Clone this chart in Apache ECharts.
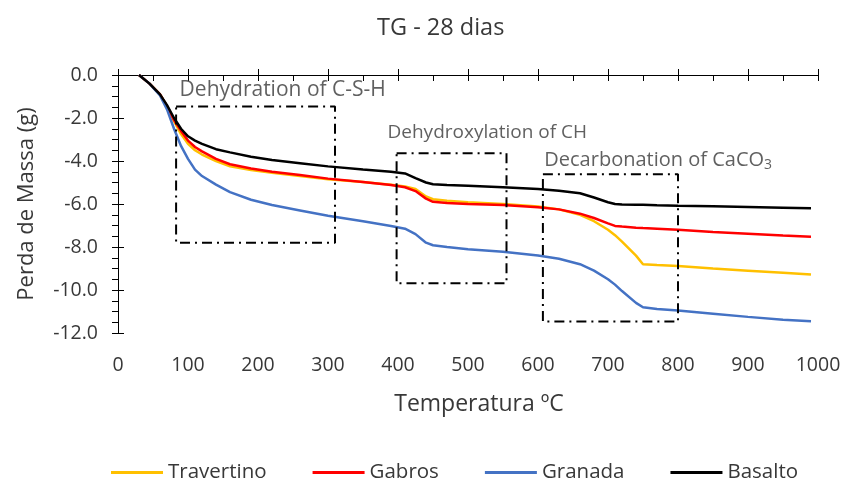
<html>
<head>
<meta charset="utf-8">
<title>TG - 28 dias</title>
<script src="https://cdn.jsdelivr.net/npm/echarts@6/dist/echarts.min.js"></script>
</head>
<body style="margin:0;padding:0;background:#fff;">
<div id="main" style="width:854px;height:481px;"></div>
<script type="text/javascript">
// temperatura (ºC) e perda de massa (g)
var temperatura = [30, 45, 60, 70, 80, 90, 100, 110, 120, 140, 160, 190, 220, 260, 300, 350, 390, 410, 425, 440, 450, 470, 500, 550, 600, 630, 660, 680, 700, 710, 720, 740, 750, 770, 800, 850, 900, 950, 990];
var travertino = [0, -0.4, -0.9, -1.45, -2.15, -2.75, -3.2, -3.5, -3.7, -4.0, -4.25, -4.42, -4.55, -4.7, -4.85, -4.98, -5.1, -5.18, -5.3, -5.65, -5.78, -5.85, -5.92, -6.0, -6.12, -6.25, -6.5, -6.8, -7.2, -7.45, -7.75, -8.4, -8.8, -8.84, -8.88, -9.0, -9.1, -9.2, -9.28];
var gabros = [0, -0.4, -0.9, -1.45, -2.1, -2.6, -3.05, -3.35, -3.55, -3.9, -4.15, -4.35, -4.5, -4.65, -4.82, -4.98, -5.12, -5.22, -5.4, -5.75, -5.9, -5.95, -6.0, -6.05, -6.15, -6.25, -6.45, -6.65, -6.9, -7.02, -7.05, -7.1, -7.12, -7.15, -7.2, -7.3, -7.38, -7.46, -7.52];
var granada = [0, -0.4, -0.95, -1.6, -2.5, -3.3, -3.9, -4.4, -4.7, -5.1, -5.45, -5.8, -6.05, -6.3, -6.55, -6.8, -7.02, -7.15, -7.4, -7.8, -7.92, -8.0, -8.1, -8.22, -8.4, -8.55, -8.8, -9.1, -9.5, -9.75, -10.05, -10.6, -10.8, -10.88, -10.95, -11.1, -11.25, -11.38, -11.45];
var basalto = [0, -0.4, -0.9, -1.4, -2.0, -2.5, -2.85, -3.05, -3.2, -3.45, -3.6, -3.8, -3.95, -4.1, -4.25, -4.4, -4.5, -4.58, -4.8, -5.0, -5.08, -5.12, -5.15, -5.22, -5.3, -5.38, -5.5, -5.7, -5.92, -6.0, -6.02, -6.03, -6.04, -6.06, -6.08, -6.11, -6.14, -6.17, -6.2];

var seriesNames = ['Travertino', 'Gabros', 'Granada', 'Basalto'];
var seriesColors = ['#FFC000', '#FF0000', '#4472C4', '#000000'];

// zonas marcadas: [x0, x1, y0, y1]
var zonaCSH = [83, 310, -1.47, -7.8];
var zonaCH = [398, 555, -3.64, -9.69];
var zonaCaCO3 = [607, 800, -4.62, -11.47];

// textos das zonas: [x, y]
var textoCSH = [88, -0.7];
var textoCH = [385, -2.7];
var textoCaCO3 = [609, -3.95];

var fonte = 'Open Sans';
var corTexto = '#383838';

function pares(xs, ys) {
    var out = [];
    for (var i = 0; i < xs.length; i++) out.push([xs[i], ys[i]]);
    return out;
}

function caixa(z) {
    return [[z[0], z[2]], [z[1], z[2]], [z[1], z[3]], [z[0], z[3]], [z[0], z[2]]];
}

var dados = [travertino, gabros, granada, basalto];
var series = [];
for (var i = 0; i < dados.length; i++) {
    series.push({
        name: seriesNames[i],
        type: 'line',
        data: pares(temperatura, dados[i]),
        showSymbol: false,
        smooth: false,
        lineStyle: {color: seriesColors[i], width: 2.5},
        itemStyle: {color: seriesColors[i]},
        z: 3
    });
}

[zonaCSH, zonaCH, zonaCaCO3].forEach(function (z) {
    series.push({
        type: 'line',
        data: caixa(z),
        showSymbol: false,
        silent: true,
        lineStyle: {color: '#000', width: 2, type: [10, 5, 2, 5]},
        z: 4
    });
});

series.push({
    type: 'scatter',
    symbolSize: 0,
    silent: true,
    data: [
        {value: textoCSH, label: {formatter: '{a|Dehydration of C-S-H}'}},
        {value: textoCH, label: {formatter: '{n|Dehydroxylation of CH}'}},
        {value: textoCaCO3, label: {formatter: '{c|Decarbonation of CaCO}{s|3}'}}
    ],
    label: {
        show: true,
        position: 'right',
        distance: 0,
        rich: {
            a: {color: corTexto, fontFamily: fonte, fontSize: 21},
            n: {color: corTexto, fontFamily: fonte, fontSize: 19},
            c: {color: corTexto, fontFamily: fonte, fontSize: 20},
            s: {color: corTexto, fontFamily: fonte, fontSize: 14, padding: [10, 0, 0, 0]}
        }
    },
    z: 5
});

var eixoX = {
    type: 'value',
    min: 0,
    max: 1000,
    interval: 100,
    splitLine: {show: false}
};
var eixoY = {
    type: 'value',
    min: -12,
    max: 0,
    interval: 2,
    splitLine: {show: false}
};

var myChart = echarts.init(document.getElementById('main'));
var option = {
    animation: false,
    title: {
        text: 'TG - 28 dias',
        left: 372,
        top: 11,
        textStyle: {fontFamily: fonte, fontSize: 23.5, fontWeight: 'normal', color: corTexto}
    },
    legend: {
        data: seriesNames,
        top: 457,
        left: 106,
        icon: 'rect',
        itemWidth: 52,
        itemHeight: 3,
        itemGap: 46,
        textStyle: {fontFamily: fonte, fontSize: 20.5, color: corTexto}
    },
    grid: {left: 118, right: 36, top: 75, bottom: 148},
    xAxis: [
        Object.assign({}, eixoX, {
            position: 'bottom',
            name: 'Temperatura ºC',
            nameLocation: 'middle',
            nameGap: 60,
            nameTextStyle: {fontFamily: fonte, fontSize: 23, color: corTexto, padding: [0, 0, 0, 22]},
            axisLine: {lineStyle: {color: '#000', width: 1}},
            axisTick: {show: true, length: 6, lineStyle: {color: '#000'}},
            minorTick: {show: true, splitNumber: 2, length: 6, lineStyle: {color: '#000'}},
            axisLabel: {
                margin: 22,
                fontFamily: fonte,
                fontSize: 19.5,
                color: corTexto,
                formatter: function (v) { return String(v); }
            }
        }),
        Object.assign({}, eixoX, {
            position: 'bottom',
            axisLine: {show: false},
            axisTick: {show: true, inside: true, length: 6, lineStyle: {color: '#000'}},
            axisLabel: {show: false}
        })
    ],
    yAxis: [
        Object.assign({}, eixoY, {
            position: 'left',
            name: 'Perda de Massa (g)',
            nameLocation: 'middle',
            nameGap: 80,
            nameTextStyle: {fontFamily: fonte, fontSize: 22, color: corTexto},
            axisLine: {show: true, lineStyle: {color: '#000', width: 1}},
            axisTick: {show: true, length: 6, lineStyle: {color: '#000'}},
            minorTick: {show: true, splitNumber: 4, length: 6, lineStyle: {color: '#000'}},
            axisLabel: {
                margin: 20,
                fontFamily: fonte,
                fontSize: 19.5,
                color: corTexto,
                formatter: function (v) { return v.toFixed(1); }
            }
        }),
        Object.assign({}, eixoY, {
            position: 'left',
            axisLine: {show: false},
            axisTick: {show: true, inside: true, length: 6, lineStyle: {color: '#000'}},
            axisLabel: {show: false}
        })
    ],
    series: series
};
myChart.setOption(option);
</script>
</body>
</html>
